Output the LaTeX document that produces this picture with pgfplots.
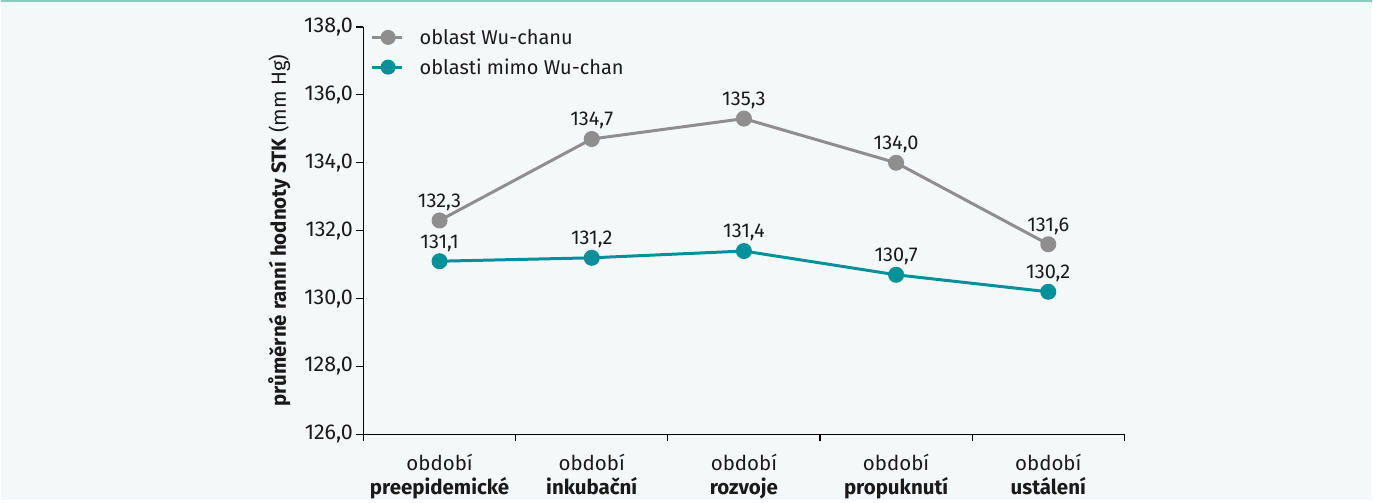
\documentclass[border=0pt]{standalone}
\usepackage{pgfplots}
\pgfplotsset{compat=1.18}
\usepackage{fontspec}
\setmainfont{Fira Sans}
\definecolor{bgc}{HTML}{F4F8F8}
\definecolor{topc}{HTML}{7ECFC0}
\definecolor{greyc}{HTML}{8E8E8E}
\definecolor{tealc}{HTML}{00929A}
\definecolor{txt}{HTML}{1A1A1A}
\begin{document}
\begin{tikzpicture}[x=1pt,y=1pt]
\fill[bgc] (0,0) rectangle (1373,501);
\draw[topc,line width=2pt] (0,500) -- (1373,500);
\begin{axis}[
  at={(363pt,66pt)}, anchor=south west,
  scale only axis, width=762pt, height=408pt,
  xmin=-0.5, xmax=4.5, ymin=126, ymax=138,
  axis x line*=bottom, axis y line*=left,
  axis line style={-, line width=1.2pt, black},
  xtick={0,1,2,3,4},
  xticklabels={období\\\textbf{preepidemické}, období\\\textbf{inkubační}, období\\\textbf{rozvoje}, období\\\textbf{propuknutí}, období\\\textbf{ustálení}},
  xticklabel style={align=center, font=\fontsize{20.5}{24}\selectfont, text=txt, yshift=-9pt},
  major x tick style={draw=none},
  minor xtick={-0.5,0.5,1.5,2.5,3.5,4.5},
  minor x tick style={line width=1.2pt, black},
  minor tick length=7pt,
  ytick={126,128,...,138},
  major tick length=7pt,
  tick align=outside,
  y tick style={line width=1.2pt, black},
  yticklabel style={font=\fontsize{21.5}{24}\selectfont, text=txt},
  /pgf/number format/.cd, use comma, fixed, fixed zerofill, precision=1, assume math mode=true,
  /pgfplots/.cd,
  ylabel={\textbf{průměrné ranní hodnoty STK} (mm Hg)},
  ylabel style={font=\fontsize{20.5}{24}\selectfont, text=txt, yshift=7pt},
  nodes near coords,
  nodes near coords style={font=\fontsize{20}{24}\selectfont, text=txt, anchor=south, yshift=5pt, /pgf/number format/.cd, use comma, fixed, fixed zerofill, precision=1, assume math mode=true},
  legend style={at={(0,1)}, anchor=north west, draw=none, fill=none, font=\fontsize{20}{24}\selectfont, text=txt, row sep=9pt, xshift=4pt, yshift=2pt},
  legend cell align=left,
  legend image code/.code={\draw[#1, line width=3pt] (0pt,0pt) -- (30pt,0pt); \fill[#1] (16pt,0pt) circle (6pt); \path (44pt,0pt);},
]
\addplot[greyc, line width=3pt, mark=*, mark size=6.5pt] coordinates {(0,132.3) (1,134.7) (2,135.3) (3,134.0) (4,131.6)};
\addlegendentry{oblast Wu-chanu}
\addplot[tealc, line width=3pt, mark=*, mark size=6.5pt] coordinates {(0,131.1) (1,131.2) (2,131.4) (3,130.7) (4,130.2)};
\addlegendentry{oblasti mimo Wu-chan}
\end{axis}
\end{tikzpicture}
\end{document}
